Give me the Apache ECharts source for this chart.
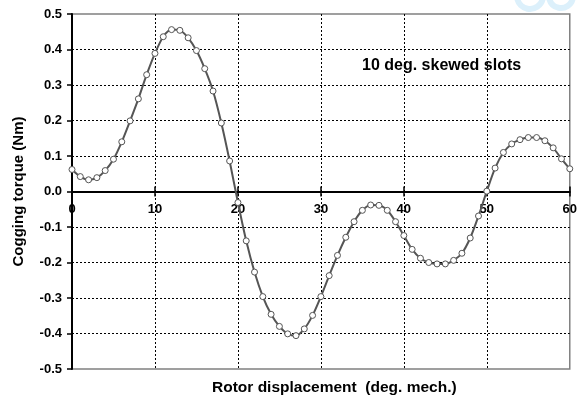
<!DOCTYPE html>
<html>
<head>
<meta charset="utf-8">
<script src="https://cdn.jsdelivr.net/npm/echarts@6/dist/echarts.min.js"></script>
<style>
html,body{margin:0;padding:0;background:#fff;}
#chart{width:580px;height:398px;}
</style>
</head>
<body>
<div id="chart"></div>
<script>
const xDeg = [0,1,2,3,4,5,6,7,8,9,10,11,12,13,14,15,16,17,18,19,20,21,22,23,24,25,26,27,28,29,30,31,32,33,34,35,36,37,38,39,40,41,42,43,44,45,46,47,48,49,50,51,52,53,54,55,56,57,58,59,60];
const torque = [0.062,0.042,0.033,0.039,0.059,0.091,0.140,0.199,0.261,0.329,0.389,0.436,0.456,0.454,0.433,0.397,0.346,0.283,0.193,0.086,-0.031,-0.139,-0.227,-0.296,-0.346,-0.380,-0.401,-0.406,-0.387,-0.349,-0.296,-0.237,-0.180,-0.129,-0.085,-0.053,-0.038,-0.039,-0.053,-0.085,-0.124,-0.163,-0.188,-0.200,-0.204,-0.204,-0.194,-0.174,-0.131,-0.069,0.001,0.066,0.110,0.134,0.146,0.152,0.152,0.143,0.123,0.092,0.064];
const xTitle = 'Rotor displacement  (deg. mech.)';
const yTitle = 'Cogging torque (Nm)';
const annotation = '10 deg. skewed slots';

const FONT = '"Liberation Sans", Arial, sans-serif';
const W = 580, H = 398;
const G = {left:72, right:6, top:14, bottom:29};
const yMin = -0.5, yMax = 0.5;
const plotH = H - G.top - G.bottom;
const zeroOffset = -plotH * (0 - yMin) / (yMax - yMin);   // move x axis to y = 0
const topOffset = -plotH * (yMax - 0) / (yMax - yMin);

const chart = echarts.init(document.getElementById('chart'), null, {renderer:'canvas'});
const data = xDeg.map((x,i)=>[x, torque[i]]);
const tickStyle = {color:'#000', width:1.5};
chart.setOption({
  animation:false,
  backgroundColor:'#fff',
  grid:Object.assign({show:true, borderColor:'#808080', borderWidth:1.5}, G),
  xAxis:[{
    type:'value', min:0, max:60, interval:10, position:'bottom', offset:zeroOffset,
    axisLine:{show:true, onZero:false, lineStyle:{color:'#000', width:2}},
    axisTick:{show:true, inside:false, length:5, lineStyle:tickStyle},
    axisLabel:{color:'#000', fontFamily:FONT, fontWeight:'bold', fontSize:13, margin:11},
    splitLine:{show:true, showMinLine:false, showMaxLine:false, lineStyle:{color:'#000', type:[2,2], width:1}}
  },{
    type:'value', min:0, max:60, interval:10, position:'top', offset:topOffset,
    axisLine:{show:false, onZero:false},
    axisTick:{show:true, inside:false, length:5, lineStyle:tickStyle},
    axisLabel:{show:false},
    splitLine:{show:false}
  }],
  yAxis:{
    type:'value', min:yMin, max:yMax, interval:0.1,
    axisLine:{show:true, onZero:false, lineStyle:{color:'#000', width:2}},
    axisTick:{show:true, inside:false, length:5, lineStyle:tickStyle},
    axisLabel:{color:'#000', fontFamily:FONT, fontWeight:'bold', fontSize:13, margin:10,
      formatter:v=>v.toFixed(1)},
    splitLine:{show:true, showMinLine:false, showMaxLine:false, lineStyle:{color:'#000', type:[2,2], width:1}},
    name:yTitle, nameLocation:'middle', nameRotate:90, nameGap:46,
    nameTextStyle:{color:'#000', fontFamily:FONT, fontWeight:'bold', fontSize:15}
  },
  graphic:[
    {type:'arc', shape:{cx:530, cy:-4, r:13, startAngle:0.2, endAngle:Math.PI-0.2}, style:{stroke:'#dcf0fb', lineWidth:6, fill:null}, z:0, silent:true},
    {type:'arc', shape:{cx:561, cy:-4, r:12, startAngle:0.2, endAngle:Math.PI-0.2}, style:{stroke:'#dcf0fb', lineWidth:6, fill:null}, z:0, silent:true},
    {type:'text', left:212, top:380, style:{text:xTitle, fill:'#000', font:'bold 15.5px '+FONT}, z:10},
    {type:'text', left:362, top:58, style:{text:annotation, fill:'#000', font:'bold 16px '+FONT}, z:10}
  ],
  series:[{
    type:'line', xAxisIndex:0, data:data, smooth:0.3,
    lineStyle:{color:'#555', width:2},
    symbol:'circle', symbolSize:6,
    itemStyle:{color:'#fff', borderColor:'#555', borderWidth:1},
    z:5
  }]
});
</script>
</body>
</html>
